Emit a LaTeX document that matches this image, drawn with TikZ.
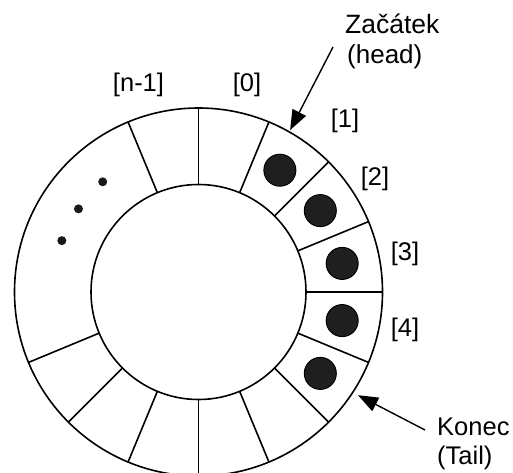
\documentclass[tikz,border=0pt]{standalone}
\usepackage{fontspec}
\setmainfont{Liberation Sans}
\usetikzlibrary{arrows.meta,calc}
\begin{document}
\begin{tikzpicture}[x=1pt,y=1pt,
  ring/.style={line width=1.6pt},
  lbl/.style={font=\fontsize{25.5}{28}\selectfont, inner sep=0pt},
  ptr/.style={line width=1.4pt, -{Triangle[length=20pt,width=15pt]}},
  ball/.style={fill=black!88, draw=black, line width=1pt},
  dot/.style={fill=black!90}]
\useasboundingbox (0,0) rectangle (513,472);
\clip (0,0) rectangle (513,472);
\coordinate (c) at (198.5,180);
\draw[ring] (c) circle[radius=184];
\draw[ring] (c) circle[radius=107.5];
\foreach \a in {0,22.5,45,67.5,90,112.5,202.5,225,247.5,270,292.5,315,337.5}
  \draw[ring] ($(c)+(\a:107.5)$) -- ($(c)+(\a:184)$);
\foreach \a in {56.25,33.75,11.25,-11.25,-33.75}
  \filldraw[ball] ($(c)+(\a:146.5)$) circle[radius=16];
\foreach \a in {131,145.3,159.4}
  \fill[dot] ($(c)+(\a:146)$) circle[radius=4.5];
\node[lbl] (lnm1) at (138.5,387.5) {[n-1]};
\node[lbl] (l0) at (247,387.5) {[0]};
\node[lbl] (l1) at (345,351) {[1]};
\node[lbl] (l2) at (375,293) {[2]};
\node[lbl] (l3) at (405,218.5) {[3]};
\node[lbl] (l4) at (405,142) {[4]};
\node[lbl, font=\fontsize{26.5}{28}\selectfont, anchor=base west] (zac) at (345,438.7) {Začátek};
\node[lbl, font=\fontsize{26}{28}\selectfont, anchor=base west] (head) at (347,408) {(head)};
\node[lbl, anchor=base west] (kon) at (437,36.5) {Konec};
\node[lbl, anchor=base west] (tail) at (437,8) {(Tail)};
\coordinate (hs) at (333,425);
\coordinate (ht) at ($(c)+(60.5:186)$);
\draw[ptr] (hs) -- (ht);
\coordinate (ts) at (425,42);
\coordinate (tt) at ($(c)+(-32.9:190)$);
\draw[ptr] (ts) -- (tt);
\end{tikzpicture}
\end{document}
